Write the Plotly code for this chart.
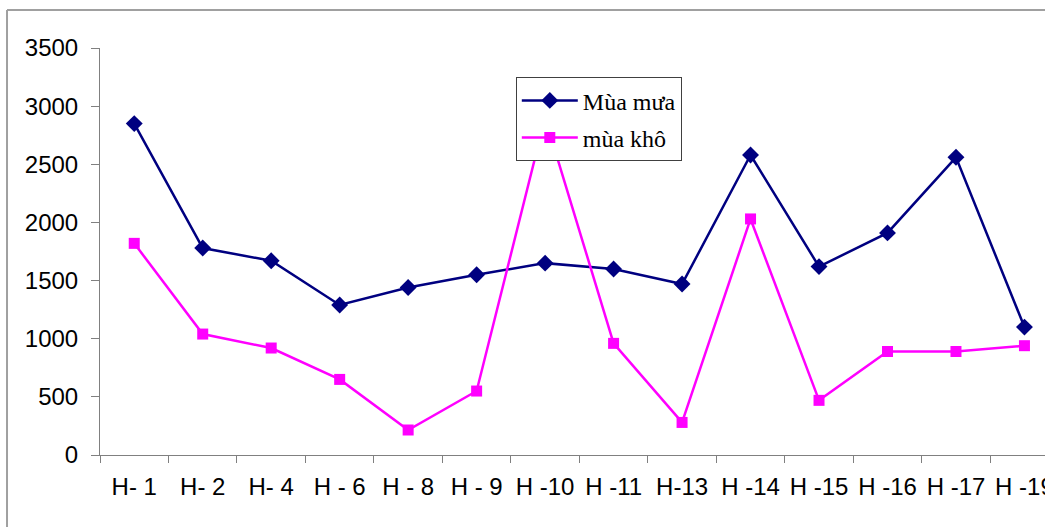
import plotly.graph_objects as go

categories = ["H- 1", "H- 2", "H- 4", "H - 6", "H - 8", "H - 9", "H -10", "H -11",
              "H-13", "H -14", "H -15", "H -16", "H -17", "H -19"]
mua_mua = [2850, 1780, 1670, 1290, 1440, 1550, 1650, 1600, 1470, 2580, 1620, 1910, 2560, 1100]
mua_kho = [1820, 1040, 920, 650, 215, 550, 2900, 960, 280, 2030, 470, 890, 890, 940]
y_ticks = [0, 500, 1000, 1500, 2000, 2500, 3000, 3500]

fig = go.Figure()
fig.add_trace(go.Scatter(
    x=categories, y=mua_mua, name="Mùa mưa", mode="lines+markers", legendgroup="a",
    line=dict(color="#000080", width=2.5),
    marker=dict(symbol="diamond", size=13, color="#000080"),
))
fig.add_trace(go.Scatter(
    x=categories, y=mua_kho, name="mùa khô", mode="lines+markers", legendgroup="b",
    line=dict(color="#FF00FF", width=2.5),
    marker=dict(symbol="square", size=11, color="#FF00FF"),
))

fig.update_layout(
    width=1045, height=527,
    margin=dict(l=100, r=0, t=48, b=72, autoexpand=False),
    paper_bgcolor="white", plot_bgcolor="white",
    font=dict(family="Liberation Sans, Arial", size=24, color="black"),
    showlegend=True,
    legend=dict(
        x=0.44, y=0.928, xanchor="left", yanchor="top",
        bgcolor="white", bordercolor="#404040", borderwidth=1,
        font=dict(family="Liberation Serif, Times New Roman", size=24, color="black"),
        tracegroupgap=3, itemwidth=56,
    ),
    xaxis=dict(
        type="category", range=[-0.5, 13.3], automargin=False,
        showline=True, linecolor="#808080", linewidth=1,
        ticks="outside", ticklen=7, tickcolor="#808080", tickson="boundaries",
        showgrid=False, zeroline=False, ticklabelstandoff=10,
        tickfont=dict(size=24),
    ),
    yaxis=dict(
        range=[0, 3500], tickvals=y_ticks, automargin=False,
        showline=True, linecolor="#808080", linewidth=1,
        ticks="outside", ticklen=8, tickcolor="#808080",
        showgrid=False, zeroline=False, ticklabelstandoff=8,
        tickfont=dict(size=24),
    ),
    shapes=[
        dict(type="line", xref="paper", yref="paper",
             x0=-0.0984, x1=1.2, y0=1.0934, y1=1.0934,
             line=dict(color="#a0a0a0", width=2), layer="below"),
        dict(type="line", xref="paper", yref="paper",
             x0=-0.0984, x1=-0.0984, y0=-0.3, y1=1.0934,
             line=dict(color="#a0a0a0", width=2), layer="below"),
    ],
)

fig.write_html("out.html")
